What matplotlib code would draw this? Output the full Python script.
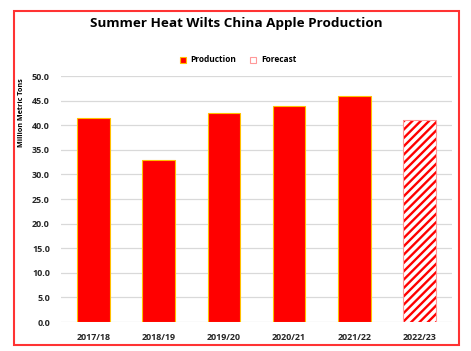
import matplotlib.pyplot as plt
from matplotlib.patches import Rectangle, Patch

# data
years = ['2017/18', '2018/19', '2019/20', '2020/21', '2021/22', '2022/23']
production = [41.4, 33.0, 42.4, 44.0, 46.0, None]
forecast = [None, None, None, None, None, 41.0]
yticks = [0, 5, 10, 15, 20, 25, 30, 35, 40, 45, 50]

plt.rcParams['font.family'] = ['Open Sans', 'DejaVu Sans']
plt.rcParams['hatch.linewidth'] = 1.7

fig = plt.figure(figsize=(4.71, 3.51), dpi=100)
fig.patch.set_facecolor('white')

# red outer border
fig.patches.append(Rectangle((14 / 471, 1 - 345 / 351), 445 / 471, 334 / 351,
                             transform=fig.transFigure, fill=False,
                             edgecolor='#FF3333', linewidth=1.5))

ax = fig.add_axes([61 / 471, 1 - 322 / 351, 391 / 471, 246 / 351])

x = list(range(len(years)))
px = [i for i, v in enumerate(production) if v is not None]
pv = [v for v in production if v is not None]
fx = [i for i, v in enumerate(forecast) if v is not None]
fv = [v for v in forecast if v is not None]

ax.bar(px, pv, width=0.5, color='#FF0000', edgecolor='#FFC000', linewidth=0.8, zorder=3)
ax.bar(fx, fv, width=0.5, color='white', edgecolor='#FF0000', hatch='////',
       linewidth=0, zorder=3)
ax.bar(fx, fv, width=0.5, fill=False, edgecolor='#FF9999', linewidth=0.8, zorder=4)

ax.set_xlim(-0.5, len(years) - 0.5)
ax.set_ylim(0, 50)
ax.set_yticks(yticks)
ax.set_yticklabels([f'{t:.1f}' for t in yticks])
ax.set_xticks(x)
ax.set_xticklabels(years)
ax.tick_params(length=0, labelsize=6.4, colors='#262626', pad=8)
for lab in ax.get_xticklabels() + ax.get_yticklabels():
    lab.set_fontweight('bold')

ax.grid(axis='y', color='#D9D9D9', linewidth=0.9, zorder=0)
for s in ax.spines.values():
    s.set_visible(False)

fig.text(22 / 471, 1 - 113 / 351, 'Million Metric Tons', rotation=90, ha='center', va='center',
         fontsize=5.2, fontweight='bold', color='black')

fig.text(236 / 471, 1 - 24 / 351, 'Summer Heat Wilts China Apple Production', ha='center',
         va='center', fontsize=9.7, fontweight='bold', color='black')

handles = [Patch(facecolor='#FF0000', edgecolor='#FFC000', linewidth=0.8),
           Patch(facecolor='white', edgecolor='#FF9999', linewidth=0.8)]
fig.legend(handles, ['Production', 'Forecast'], loc='center', bbox_to_anchor=(238 / 471, 1 - 60 / 351),
           ncol=2, frameon=False, prop={'weight': 'bold', 'size': 6},
           handlelength=0.7, handleheight=0.7, handletextpad=0.6, columnspacing=1.6)

fig.savefig('out.png', dpi=100)
